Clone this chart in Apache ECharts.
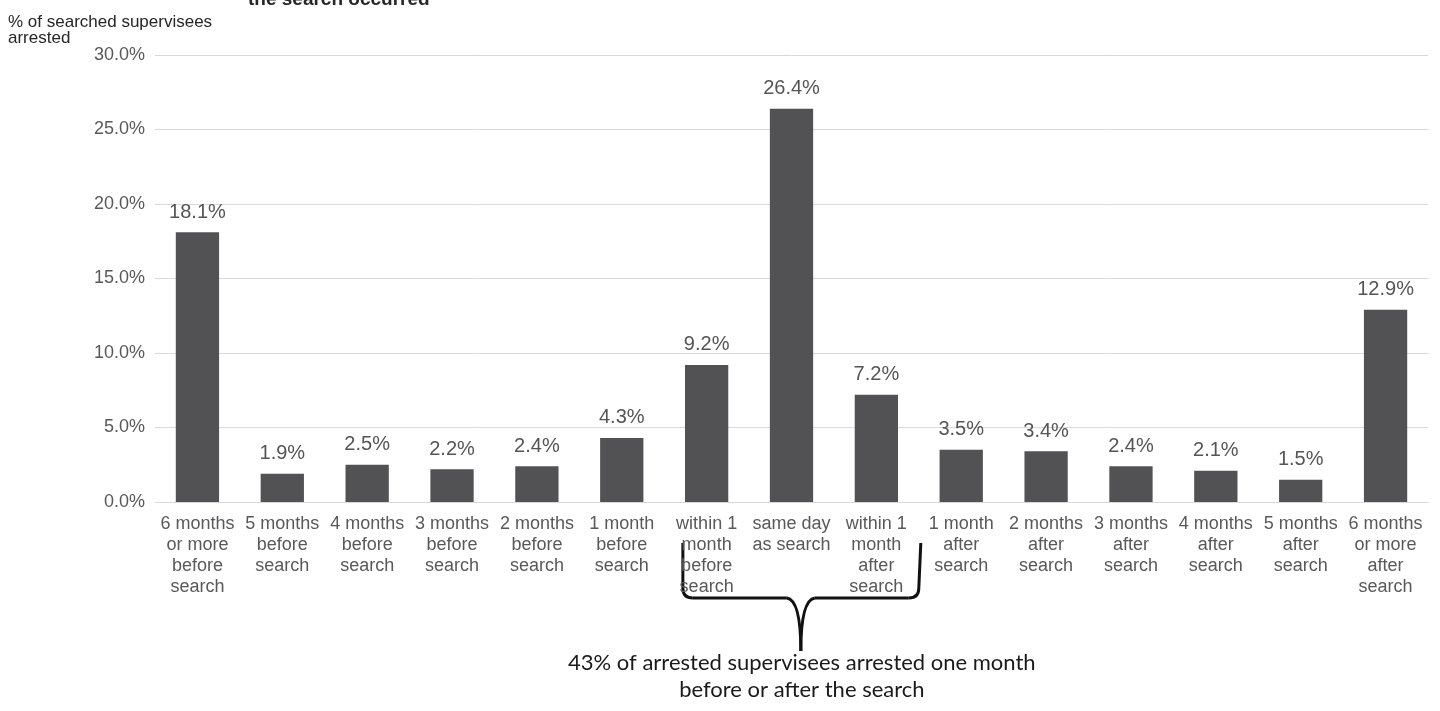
<!DOCTYPE html>
<html>
<head>
<meta charset="utf-8">
<script src="https://cdn.jsdelivr.net/npm/echarts@6/dist/echarts.min.js"></script>
<style>
  html, body { margin: 0; padding: 0; background: #fff; }
  #main { width: 1440px; height: 711px; }
</style>
</head>
<body>
<div id="main"></div>
<script>
const categories = [
  '6 months\nor more\nbefore\nsearch',
  '5 months\nbefore\nsearch',
  '4 months\nbefore\nsearch',
  '3 months\nbefore\nsearch',
  '2 months\nbefore\nsearch',
  '1 month\nbefore\nsearch',
  'within 1\nmonth\nbefore\nsearch',
  'same day\nas search',
  'within 1\nmonth\nafter\nsearch',
  '1 month\nafter\nsearch',
  '2 months\nafter\nsearch',
  '3 months\nafter\nsearch',
  '4 months\nafter\nsearch',
  '5 months\nafter\nsearch',
  '6 months\nor more\nafter\nsearch'
];
const arrestedPct = [18.1, 1.9, 2.5, 2.2, 2.4, 4.3, 9.2, 26.4, 7.2, 3.5, 3.4, 2.4, 2.1, 1.5, 12.9];
const bracketFrom = 6, bracketTo = 8; // categories covered by the brace
const noteText = '43% of arrested supervisees arrested one month\nbefore or after the search';

const FONT = '"Liberation Sans", Arial, sans-serif';
const chart = echarts.init(document.getElementById('main'));

const headerGraphics = [
  {
    type: 'text', left: 8, top: 14,
    style: {
      text: '% of searched supervisees\narrested',
      fill: '#262626', font: '17px ' + FONT, lineHeight: 16
    }
  },
  {
    type: 'text', left: 248, top: -10,
    style: { text: 'the search occurred', fill: '#262626', font: 'bold 19px ' + FONT }
  }
];

chart.setOption({
  animation: false,
  grid: { left: 155, right: 12, top: 55, bottom: 209 },
  xAxis: {
    type: 'category',
    data: categories,
    axisLine: { lineStyle: { color: '#d9d9d9', width: 1 } },
    axisTick: { show: false },
    axisLabel: {
      interval: 0,
      color: '#595959',
      fontSize: 18,
      lineHeight: 21,
      fontFamily: FONT,
      margin: 12,
      align: 'center'
    }
  },
  yAxis: {
    type: 'value',
    min: 0,
    max: 30,
    interval: 5,
    axisLine: { show: false },
    axisTick: { show: false },
    splitLine: { lineStyle: { color: '#d9d9d9', width: 1 } },
    axisLabel: {
      color: '#595959',
      fontSize: 18,
      fontFamily: FONT,
      margin: 10,
      formatter: v => v.toFixed(1) + '%'
    }
  },
  series: [{
    type: 'bar',
    data: arrestedPct,
    barWidth: '51%',
    itemStyle: { color: '#525254' },
    label: {
      show: true,
      position: 'top',
      distance: 10,
      color: '#555555',
      fontSize: 20,
      fontFamily: FONT,
      formatter: p => p.value.toFixed(1) + '%'
    }
  }],
  graphic: headerGraphics
});

// brace under the three central categories, placed from the axis scale
const band = chart.convertToPixel({ xAxisIndex: 0 }, 1) - chart.convertToPixel({ xAxisIndex: 0 }, 0);
const x0 = chart.convertToPixel({ xAxisIndex: 0 }, bracketFrom) - band * 0.28;
const x1 = chart.convertToPixel({ xAxisIndex: 0 }, bracketTo) + band * 0.5;
const xm = (x0 + x1) / 2;
const yTop = 543, yBar = 598, yTip = 651, r = 10;
const braceStyle = { fill: null, stroke: '#111', lineWidth: 3 };
const seg = (ax, ay, bx, by) => ({ type: 'line', shape: { x1: ax, y1: ay, x2: bx, y2: by }, style: braceStyle });
const curve = (ax, ay, cx, cy, bx, by) => ({
  type: 'bezierCurve',
  shape: { x1: ax, y1: ay, cpx1: cx, cpy1: cy, x2: bx, y2: by },
  style: braceStyle
});

chart.setOption({
  graphic: headerGraphics.concat([
    seg(x0, yTop, x0, yBar - r),
    curve(x0, yBar - r, x0, yBar, x0 + r, yBar),
    seg(x0 + r, yBar, xm - 14, yBar),
    curve(xm - 14, yBar, xm, yBar + 2, xm, yTip),
    curve(xm, yTip, xm, yBar + 2, xm + 14, yBar),
    seg(xm + 14, yBar, x1 - r, yBar),
    curve(x1 - r, yBar, x1, yBar, x1, yBar - r),
    seg(x1, yBar - r, x1 + 2, yTop),
    {
      type: 'text', x: xm + 1, y: 649,
      style: {
        text: noteText, fill: '#1a1a1a', font: '22px Lato, "Open Sans", sans-serif',
        align: 'center', lineHeight: 27
      }
    }
  ])
});
</script>
</body>
</html>
